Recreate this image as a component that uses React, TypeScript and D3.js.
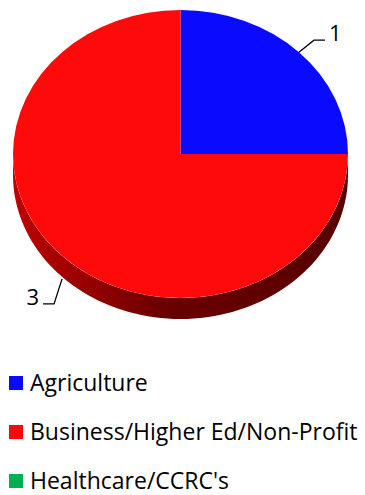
import React from "react";
import * as d3 from "d3";

const categories = ["Agriculture", "Business/Higher Ed/Non-Profit", "Healthcare/CCRC's"];
const values = [1, 3, 0];
const colors = ["#0a0aff", "#ff0a0a", "#00b050"];

const W = 365, H = 495;
const cx = 180.5, cy = 154, rx = 167.5, ry = 144, depth = 21;

export default function App() {
  const pie = d3.pie<number>().sort(null).value((d) => d);
  const arcs = pie(values);
  const arcGen = d3.arc<any>().innerRadius(0).outerRadius(rx);
  const k = ry / rx;
  const pt = (a: number, dy = 0): [number, number] => [cx + rx * Math.sin(a), cy - ry * Math.cos(a) + dy];
  const line = d3.line();

  const sides = arcs.map((a, i) => {
    const lo = Math.max(a.startAngle, Math.PI / 2);
    const hi = Math.min(a.endAngle, (3 * Math.PI) / 2);
    if (hi <= lo || values[i] === 0) return null;
    const n = 80;
    const top = d3.range(n + 1).map((j) => pt(lo + ((hi - lo) * j) / n));
    const bot = d3.range(n + 1).map((j) => pt(hi - ((hi - lo) * j) / n, depth));
    return <path key={"s" + i} d={line([...top, ...bot]) + "Z"} fill="url(#sideGrad)" />;
  });

  const labels = arcs.map((a, i) => {
    if (values[i] === 0) return null;
    const mid = (a.startAngle + a.endAngle) / 2;
    const lower = Math.cos(mid) < 0;
    const [x0, y0] = pt(mid, lower ? depth + 2 : 0);
    const right = Math.sin(mid) > 0;
    const dx = right ? 1 : -1;
    const x1 = x0 + dx * (lower ? 8 : 15);
    const y1 = y0 + (lower ? 25 : -12);
    const x2 = x1 + dx * 11;
    return (
      <g key={"l" + i}>
        <polyline points={`${x0},${y0} ${x1},${y1} ${x2},${y1}`} fill="none" stroke="#000" strokeWidth={1.3} />
        <text x={x2 + dx * 4} y={y1 + 1} textAnchor={right ? "start" : "end"} fontSize={22} fontFamily="'Open Sans', sans-serif" fill="#000">
          {values[i]}
        </text>
      </g>
    );
  });

  return (
    <svg width={W} height={H} style={{ position: "absolute", left: 0, top: 0 }}>
      <defs>
        <linearGradient id="sideGrad" x1={cx - rx} x2={cx + rx} y1={0} y2={0} gradientUnits="userSpaceOnUse">
          <stop offset="0" stopColor="#c00000" />
          <stop offset="0.45" stopColor="#6a0000" />
          <stop offset="1" stopColor="#560000" />
        </linearGradient>
      </defs>
      {sides}
      <g transform={`translate(${cx},${cy}) scale(1,${k})`}>
        {arcs.map((a, i) => (values[i] === 0 ? null : <path key={i} d={arcGen(a) || ""} fill={colors[i]} />))}
      </g>
      {labels}
      {categories.map((c, i) => (
        <g key={c} transform={`translate(9,${376 + i * 49})`}>
          <rect width={14} height={14} fill={colors[i]} />
          <text x={21} y={15} fontSize={23} fontFamily="'Open Sans', sans-serif" fill="#000">
            {c}
          </text>
        </g>
      ))}
    </svg>
  );
}
